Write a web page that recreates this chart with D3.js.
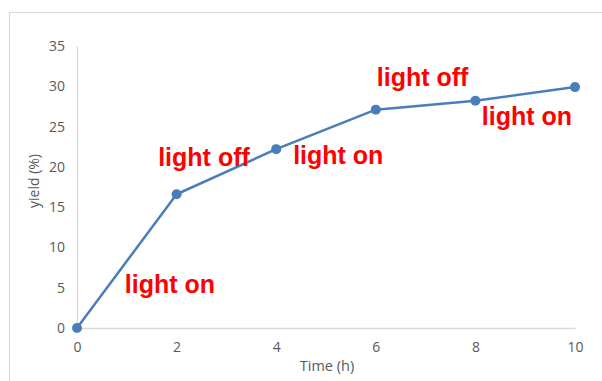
<!DOCTYPE html>
<html><head><meta charset="utf-8">
<script src="https://cdn.jsdelivr.net/npm/d3@7"></script>
<style>body{margin:0;background:#fff;}svg{display:block;}</style>
</head><body>
<svg id="c" width="602" height="381"></svg>
<script>
const times = [0, 2, 4, 6, 8, 10];
const yields = [0, 16.6, 22.2, 27.1, 28.2, 29.9];
const xTicks = [0, 2, 4, 6, 8, 10];
const yTicks = [0, 5, 10, 15, 20, 25, 30, 35];
const noteTexts = ["light on", "light off", "light on", "light off", "light on"];
const noteTimes = [0.96, 1.63, 4.34, 6.02, 8.13];
const noteYields = [4.3, 20.1, 20.35, 30.0, 25.2];

const svg = d3.select("#c");
// outer frame
svg.append("rect").attr("x", 9.5).attr("y", 12.5).attr("width", 620).attr("height", 400)
  .attr("fill", "none").attr("stroke", "#d9d9d9").attr("stroke-width", 1);

const x = d3.scaleLinear().domain([0, 10]).range([77, 575]);
const y = d3.scaleLinear().domain([0, 35]).range([328, 46]);

const font = "'Open Sans', sans-serif";
const gx = svg.append("g").attr("transform", "translate(0,328)")
  .call(d3.axisBottom(x).tickValues(xTicks).tickSize(0).tickPadding(14).tickFormat(d3.format("d")));
gx.select(".domain").attr("stroke", "#d9d9d9").attr("stroke-width", 1.3);
gx.selectAll("text").attr("fill", "#595959").style("font-family", font).style("font-size", "14px");

const gy = svg.append("g").attr("transform", "translate(77,0)")
  .call(d3.axisLeft(y).tickValues(yTicks).tickSize(0).tickPadding(12).tickFormat(d3.format("d")));
gy.select(".domain").attr("stroke", "#d9d9d9").attr("stroke-width", 1.3);
gy.selectAll("text").attr("fill", "#595959").style("font-family", font).style("font-size", "14px");

svg.append("text").attr("x", 327).attr("y", 371).attr("text-anchor", "middle")
  .attr("fill", "#595959").style("font-family", font).style("font-size", "14.5px").text("Time (h)");
svg.append("text").attr("transform", "translate(39,181) rotate(-90)").attr("text-anchor", "middle")
  .attr("fill", "#595959").style("font-family", font).style("font-size", "14px").text("yield (%)");

const pts = times.map((t, i) => [t, yields[i]]);
svg.append("path").datum(pts)
  .attr("d", d3.line().x(d => x(d[0])).y(d => y(d[1])))
  .attr("fill", "none").attr("stroke", "#4a7ebb").attr("stroke-width", 2.5).attr("stroke-linejoin", "round");
svg.selectAll("circle.pt").data(pts).join("circle").attr("class", "pt")
  .attr("cx", d => x(d[0])).attr("cy", d => y(d[1])).attr("r", 5).attr("fill", "#4a7ebb");

svg.selectAll("text.note").data(noteTexts).join("text").attr("class", "note")
  .attr("x", (d, i) => x(noteTimes[i])).attr("y", (d, i) => y(noteYields[i]))
  .attr("fill", "#ff0000").style("font-family", "'Liberation Sans', Arial, sans-serif")
  .style("font-weight", "bold").style("font-size", "25px").text(d => d);
</script>
</body></html>
